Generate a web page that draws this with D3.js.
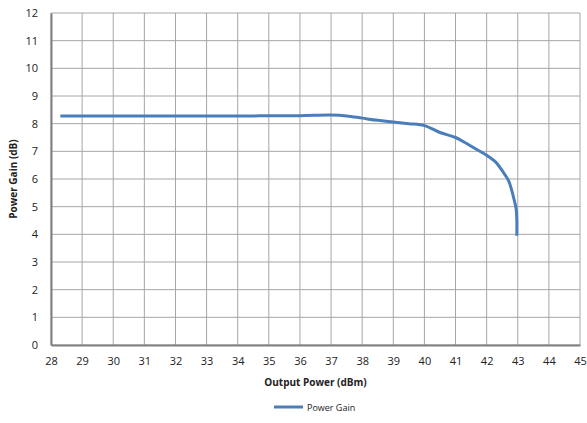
<!DOCTYPE html>
<html>
<head>
<meta charset="utf-8">
<script src="https://cdn.jsdelivr.net/npm/d3@7"></script>
<style>
  body { margin: 0; background: #fff; }
  text { font-family: "Open Sans", "Noto Sans", sans-serif; fill: #222; }
</style>
</head>
<body>
<div id="chart"></div>
<script>
const seriesName = "Power Gain";
const outputPower = [28.3, 30, 32, 34, 36, 37, 37.5, 38, 38.5, 39, 39.5, 40, 40.5, 41, 41.3, 41.6, 42, 42.3, 42.5, 42.7, 42.85, 42.95, 42.97, 42.97];
const powerGain =   [8.28, 8.28, 8.28, 8.28, 8.29, 8.31, 8.28, 8.2, 8.12, 8.06, 8.0, 7.93, 7.68, 7.5, 7.32, 7.12, 6.86, 6.6, 6.3, 5.95, 5.4, 4.9, 4.5, 3.95];
const xTicks = d3.range(28, 46, 1);
const yTicks = d3.range(0, 13, 1);

const W = 587, H = 423;
const margin = { top: 13, right: 7, bottom: 78, left: 51 };
const width = W - margin.left - margin.right;
const height = H - margin.top - margin.bottom;

const x = d3.scaleLinear().domain([28, 45]).range([0, width]);
const y = d3.scaleLinear().domain([0, 12]).range([height, 0]);

const svg = d3.select("#chart").append("svg")
    .attr("width", W).attr("height", H);
const g = svg.append("g").attr("transform", `translate(${margin.left},${margin.top})`);

// grid
g.append("g").selectAll("line").data(xTicks).join("line")
    .attr("x1", d => x(d)).attr("x2", d => x(d))
    .attr("y1", 0).attr("y2", height)
    .attr("stroke", "#a6a6a6").attr("stroke-width", 1);
g.append("g").selectAll("line").data(yTicks).join("line")
    .attr("x1", 0).attr("x2", width)
    .attr("y1", d => y(d)).attr("y2", d => y(d))
    .attr("stroke", "#a6a6a6").attr("stroke-width", 1);

// axes
const xAxis = d3.axisBottom(x).tickValues(xTicks).tickSize(0).tickPadding(12);
const yAxis = d3.axisLeft(y).tickValues(yTicks).tickSize(0).tickPadding(13);

const xg = g.append("g").attr("transform", `translate(0,${height})`).call(xAxis);
const yg = g.append("g").call(yAxis);
[xg, yg].forEach(a => {
  a.select(".domain").attr("stroke", "#808080").attr("stroke-width", 2);
  a.selectAll("text").style("font-size", "11px").style("font-family", "'Open Sans', sans-serif").attr("fill", "#222");
});

// line
const line = d3.line()
    .x((d, i) => x(outputPower[i]))
    .y(d => y(d))
    .curve(d3.curveMonotoneY);
g.append("path")
    .datum(powerGain)
    .attr("d", d3.line().x((d, i) => x(outputPower[i])).y(d => y(d)).curve(d3.curveCatmullRom.alpha(0.5)))
    .attr("fill", "none")
    .attr("stroke", "#4a7ebb")
    .attr("stroke-width", 3);

// axis titles
svg.append("text")
    .attr("x", margin.left + width / 2).attr("y", 386)
    .attr("text-anchor", "middle")
    .style("font-size", "10px").style("font-weight", "bold")
    .text("Output Power (dBm)");
svg.append("text")
    .attr("transform", `translate(17,${margin.top + height / 2}) rotate(-90)`)
    .attr("text-anchor", "middle")
    .style("font-size", "10px").style("font-weight", "bold")
    .text("Power Gain (dB)");

// legend
const lg = svg.append("g").attr("transform", "translate(274,407)");
lg.append("line").attr("x1", 0).attr("x2", 29).attr("y1", 0).attr("y2", 0)
    .attr("stroke", "#4a7ebb").attr("stroke-width", 3);
lg.append("text").attr("x", 33).attr("y", 3.5)
    .style("font-size", "9px").text(seriesName);
</script>
</body>
</html>
